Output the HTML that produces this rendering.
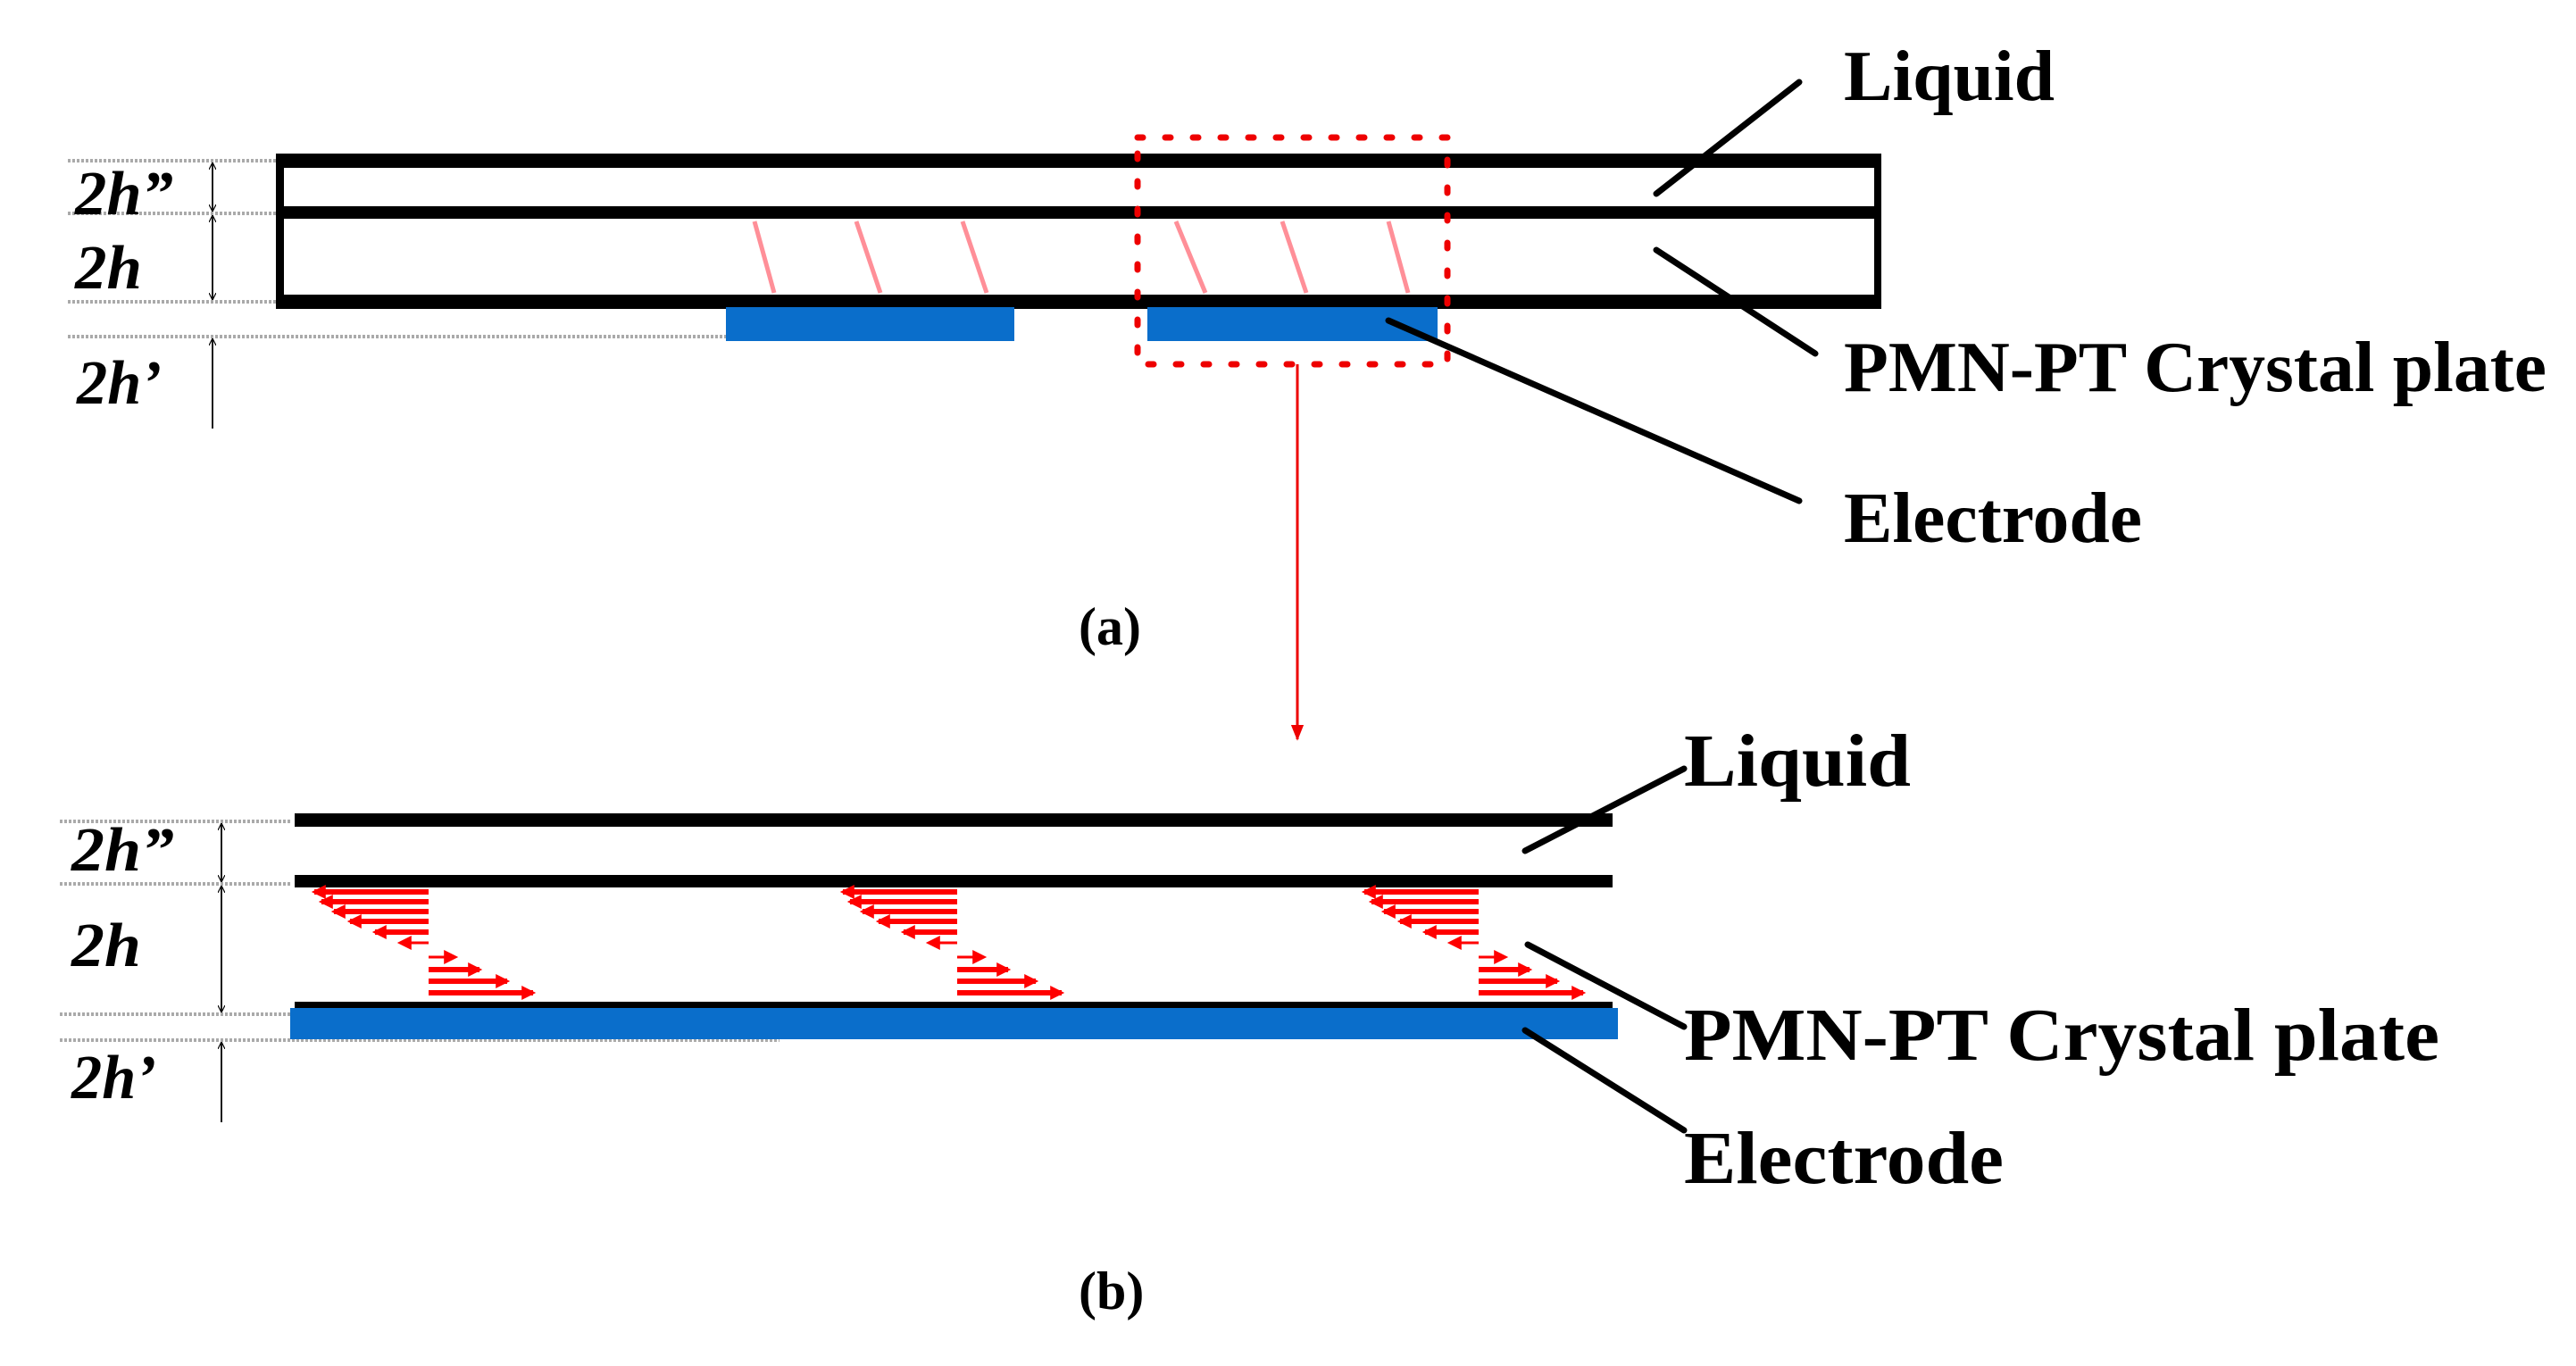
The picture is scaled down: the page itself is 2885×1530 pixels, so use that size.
<!DOCTYPE html>
<html><head><meta charset="utf-8"><style>
html,body{margin:0;padding:0;background:#fff;}
svg{display:block;}
text{font-family:"Liberation Serif",serif;font-weight:bold;fill:#000;}
.it{font-style:italic;}
</style></head><body>
<svg width="2885" height="1530" viewBox="0 0 2885 1530" xmlns="http://www.w3.org/2000/svg">
<defs>
<marker id="ah" viewBox="0 0 10 10" refX="10" refY="5" markerWidth="8" markerHeight="8" orient="auto-start-reverse" markerUnits="userSpaceOnUse"><path d="M0,0 L10,5 L0,10" fill="none" stroke="#000" stroke-width="1.5"/></marker>
<marker id="rh" viewBox="0 0 10 10" refX="9" refY="5" markerWidth="18" markerHeight="18" orient="auto" markerUnits="userSpaceOnUse"><path d="M0,1 L10,5 L0,9 Z" fill="#e00"/></marker>
<marker id="rb" viewBox="0 0 10 10" refX="8" refY="5" markerWidth="20" markerHeight="16" orient="auto" markerUnits="userSpaceOnUse"><path d="M0,0 L10,5 L0,10 Z" fill="#f00"/></marker>
</defs>
<!-- ===== (a) ===== -->
<g stroke="#aaa" stroke-width="4" stroke-dasharray="3,2">
<line x1="76" y1="180" x2="314" y2="180"/><line x1="76" y1="239" x2="314" y2="239"/>
<line x1="76" y1="338" x2="314" y2="338"/><line x1="76" y1="377" x2="813" y2="377"/>
</g>
<g fill="#000">
<rect x="313" y="172" width="1790" height="16"/>
<rect x="313" y="231" width="1790" height="14"/>
<rect x="313" y="330" width="1790" height="16"/>
<rect x="309" y="172" width="9" height="174"/>
<rect x="2099" y="172" width="8" height="174"/>
</g>
<g stroke="#f23" stroke-width="5" opacity="0.5">
<line x1="845" y1="248" x2="867" y2="328"/><line x1="959" y1="248" x2="986" y2="328"/>
<line x1="1078" y1="248" x2="1105" y2="328"/><line x1="1317" y1="248" x2="1350" y2="328"/>
<line x1="1436" y1="248" x2="1463" y2="328"/><line x1="1555" y1="248" x2="1577" y2="328"/>
</g>
<rect x="813" y="344" width="323" height="38" fill="#0a6ecb"/>
<rect x="1285" y="344" width="325" height="38" fill="#0a6ecb"/>
<rect x="1274" y="154" width="347" height="254" fill="none" stroke="#e00" stroke-width="7" stroke-dasharray="6,25" stroke-linecap="round"/>
<line x1="1453" y1="408" x2="1453" y2="828" stroke="#e00" stroke-width="3" marker-end="url(#rh)"/>
<g stroke="#000" stroke-width="1.8" fill="none">
<line x1="238" y1="182" x2="238" y2="237" marker-start="url(#ah)" marker-end="url(#ah)"/>
<line x1="238" y1="241" x2="238" y2="336" marker-start="url(#ah)" marker-end="url(#ah)"/>
<line x1="238" y1="480" x2="238" y2="379" marker-end="url(#ah)"/>
</g>
<text class="it" x="84" y="240" font-size="70" textLength="110" lengthAdjust="spacingAndGlyphs">2h”</text>
<text class="it" x="84" y="323" font-size="70" textLength="75" lengthAdjust="spacingAndGlyphs">2h</text>
<text class="it" x="86" y="452" font-size="70" textLength="95" lengthAdjust="spacingAndGlyphs">2h’</text>
<g stroke="#000" stroke-width="7" stroke-linecap="round">
<line x1="1855" y1="217" x2="2015" y2="92"/>
<line x1="1855" y1="280" x2="2033" y2="396"/>
<line x1="1555" y1="359" x2="2015" y2="561"/>
</g>
<text x="2065" y="112" font-size="80" textLength="236" lengthAdjust="spacingAndGlyphs">Liquid</text>
<text x="2065" y="438" font-size="80" textLength="787" lengthAdjust="spacingAndGlyphs">PMN-PT Crystal plate</text>
<text x="2065" y="607" font-size="80" textLength="334" lengthAdjust="spacingAndGlyphs">Electrode</text>
<text x="1208" y="722" font-size="60">(a)</text>
<!-- ===== (b) ===== -->
<g stroke="#aaa" stroke-width="4" stroke-dasharray="3,2">
<line x1="67" y1="920" x2="327" y2="920"/><line x1="67" y1="990" x2="327" y2="990"/>
<line x1="67" y1="1136" x2="327" y2="1136"/><line x1="67" y1="1165" x2="873" y2="1165"/>
</g>
<g fill="#000">
<rect x="330" y="911" width="1476" height="15"/>
<rect x="330" y="980" width="1476" height="14"/>
<rect x="330" y="1122" width="1476" height="7"/>
</g>
<rect x="325" y="1129" width="1487" height="35" fill="#0a6ecb"/>
<g stroke="#f00" stroke-width="6" marker-end="url(#rb)">
<g id="grp">
<line x1="480" y1="999" x2="352" y2="999"/>
<line x1="480" y1="1010" x2="360" y2="1010"/>
<line x1="480" y1="1021" x2="374" y2="1021"/>
<line x1="480" y1="1032" x2="392" y2="1032"/>
<line x1="480" y1="1044" x2="420" y2="1044"/>
<line x1="480" y1="1056" x2="448" y2="1056" stroke-width="3"/>
<line x1="480" y1="1072" x2="510" y2="1072" stroke-width="3"/>
<line x1="480" y1="1086" x2="537" y2="1086"/>
<line x1="480" y1="1099" x2="568" y2="1099"/>
<line x1="480" y1="1112" x2="597" y2="1112"/>
</g>
<use href="#grp" x="592"/>
<use href="#grp" x="1176"/>
</g>
<g stroke="#000" stroke-width="1.8" fill="none">
<line x1="248" y1="922" x2="248" y2="988" marker-start="url(#ah)" marker-end="url(#ah)"/>
<line x1="248" y1="992" x2="248" y2="1134" marker-start="url(#ah)" marker-end="url(#ah)"/>
<line x1="248" y1="1257" x2="248" y2="1167" marker-end="url(#ah)"/>
</g>
<text class="it" x="80" y="975" font-size="70" textLength="115" lengthAdjust="spacingAndGlyphs">2h”</text>
<text class="it" x="80" y="1082" font-size="70" textLength="78" lengthAdjust="spacingAndGlyphs">2h</text>
<text class="it" x="80" y="1230" font-size="70" textLength="95" lengthAdjust="spacingAndGlyphs">2h’</text>
<g stroke="#000" stroke-width="7" stroke-linecap="round" fill="none">
<line x1="1708" y1="953" x2="1886" y2="861"/>
<line x1="1711" y1="1058" x2="1886" y2="1150"/>
<line x1="1708" y1="1154" x2="1886" y2="1266"/>
</g>
<text x="1886" y="880" font-size="84" textLength="254" lengthAdjust="spacingAndGlyphs">Liquid</text>
<text x="1886" y="1187" font-size="84" textLength="846" lengthAdjust="spacingAndGlyphs">PMN-PT Crystal plate</text>
<text x="1886" y="1325" font-size="84" textLength="358" lengthAdjust="spacingAndGlyphs">Electrode</text>
<text x="1208" y="1466" font-size="60">(b)</text>
</svg>
</body></html>
